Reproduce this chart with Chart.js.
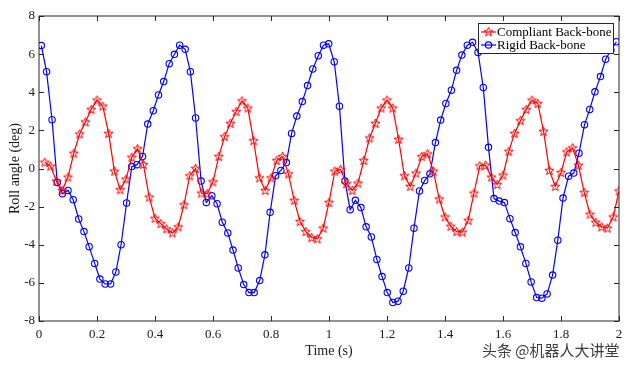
<!DOCTYPE html>
<html>
<head>
<meta charset="utf-8">
<script src="https://cdn.jsdelivr.net/npm/chart.js@4.4.1/dist/chart.umd.min.js"></script>
<style>
  html, body { margin: 0; padding: 0; background: #fff; }
  #wrap { position: relative; width: 640px; height: 367px; }
  #mark { position: absolute; left: 482px; top: 339px; font: 15px "Noto Sans CJK SC", sans-serif; color: #3c3c3c; text-shadow: 0 0 2px #fff; white-space: nowrap; }
</style>
</head>
<body>
<div id="wrap">
  <canvas id="roll" width="640" height="367"></canvas>
  <div id="mark">头条 @机器人大讲堂</div>
</div>
<script>
const seriesNames = ['Compliant Back-bone', 'Rigid Back-bone'];

const compliantTimes = [
  0.02,0.04,0.06,0.08,0.10,0.12,0.14,0.16,0.18,0.20,
  0.22,0.24,0.26,0.28,0.30,0.32,0.34,0.36,0.38,0.40,
  0.42,0.44,0.46,0.48,0.50,0.52,0.54,0.56,0.58,0.60,
  0.62,0.64,0.66,0.68,0.70,0.72,0.74,0.76,0.78,0.80,
  0.82,0.84,0.86,0.88,0.90,0.92,0.94,0.96,0.98,1.00,
  1.02,1.04,1.06,1.08,1.10,1.12,1.14,1.16,1.18,1.20,
  1.22,1.24,1.26,1.28,1.30,1.32,1.34,1.36,1.38,1.40,
  1.42,1.44,1.46,1.48,1.50,1.52,1.54,1.56,1.58,1.60,
  1.62,1.64,1.66,1.68,1.70,1.72,1.74,1.76,1.78,1.80,
  1.82,1.84,1.86,1.88,1.90,1.92,1.94,1.96,1.98,2.00
];
const compliantRoll = [
  0.33,0.12,-0.66,-1.15,-0.45,0.80,1.81,2.44,3.10,3.59,
  3.27,1.84,-0.14,-1.11,-0.56,0.59,1.04,0.21,-1.50,-2.61,
  -2.89,-3.17,-3.38,-3.06,-1.90,-0.38,0.00,-1.29,-1.32,-0.70,
  0.63,1.67,2.37,2.99,3.55,3.17,1.46,-0.49,-1.15,-0.49,
  0.42,0.63,-0.28,-1.67,-2.78,-3.31,-3.62,-3.69,-3.13,-1.78,
  -0.14,-0.05,-0.80,-1.15,-0.77,0.42,1.60,2.37,3.17,3.59,
  3.17,1.53,-0.38,-0.94,-0.24,0.63,0.77,-0.14,-1.60,-2.54,
  -3.03,-3.31,-3.34,-2.72,-1.29,0.14,0.17,-0.45,-0.84,-0.35,
  0.90,1.84,2.51,3.10,3.59,3.41,1.95,-0.10,-0.94,-0.21,
  0.87,1.08,0.17,-1.25,-2.40,-2.82,-3.06,-3.13,-2.54,-1.18
];

const rigidTimes = [
  0.008,0.026,0.045,0.063,0.081,0.100,0.118,0.137,0.155,0.173,
  0.192,0.210,0.228,0.247,0.265,0.283,0.302,0.320,0.338,0.357,
  0.375,0.394,0.412,0.430,0.449,0.467,0.485,0.504,0.522,0.540,
  0.559,0.577,0.596,0.614,0.632,0.651,0.669,0.687,0.706,0.724,
  0.742,0.761,0.779,0.797,0.816,0.834,0.853,0.871,0.889,0.908,
  0.926,0.944,0.963,0.981,0.999,1.018,1.036,1.055,1.073,1.091,
  1.110,1.128,1.146,1.165,1.183,1.201,1.220,1.238,1.256,1.275,
  1.293,1.312,1.330,1.348,1.367,1.385,1.403,1.422,1.440,1.458,
  1.477,1.495,1.514,1.532,1.550,1.569,1.587,1.605,1.624,1.642,
  1.660,1.679,1.697,1.716,1.734,1.752,1.771,1.789,1.807,1.826,
  1.844,1.862,1.881,1.899,1.917,1.936,1.954,1.972,1.991
];
const rigidRoll = [
  6.45,5.08,2.56,-0.73,-1.32,-1.15,-1.64,-2.65,-3.31,-4.10,
  -4.98,-5.80,-6.06,-6.06,-5.43,-4.00,-1.81,0.10,0.20,0.63,
  2.33,3.03,3.86,4.56,5.50,5.99,6.47,6.25,5.08,2.65,
  -0.66,-1.78,-1.43,-1.85,-2.82,-3.38,-4.28,-5.22,-6.09,-6.51,
  -6.51,-5.88,-4.53,-2.30,-0.38,-0.10,0.31,1.84,2.75,3.51,
  4.35,5.22,5.92,6.47,6.54,5.60,3.27,-0.66,-2.16,-1.67,
  -2.05,-3.06,-3.59,-4.77,-5.67,-6.51,-7.03,-6.96,-6.44,-5.22,
  -3.13,-1.18,-0.63,-0.28,1.36,2.54,3.41,4.11,5.15,5.95,
  6.47,6.62,6.09,4.25,1.11,-1.58,-1.71,-1.79,-2.63,-3.36,
  -4.11,-4.98,-5.95,-6.77,-6.80,-6.58,-5.59,-3.76,-1.55,-0.40,
  -0.24,0.80,2.30,3.10,4.02,4.82,5.73,6.20,6.65
];

const timeTicks = [0, 0.2, 0.4, 0.6, 0.8, 1, 1.2, 1.4, 1.6, 1.8, 2];
const angleTicks = [-8, -6, -4, -2, 0, 2, 4, 6, 8];

const RED = '#ff0000';
const BLUE = '#0000ff';
const AXIS = '#262626';
const SERIF = '"Liberation Serif", "Times New Roman", serif';

// 5-point outlined star, like the matlab 'p' marker
function makeStar(color) {
  const c = document.createElement('canvas');
  c.width = 11; c.height = 11;
  const g = c.getContext('2d');
  g.strokeStyle = color;
  g.lineWidth = 1;
  g.beginPath();
  for (let k = 0; k < 10; k++) {
    const r = k % 2 ? 2.0 : 4.8;
    const a = -Math.PI / 2 + k * Math.PI / 5;
    const px = 5.5 + r * Math.cos(a), py = 5.8 + r * Math.sin(a);
    k ? g.lineTo(px, py) : g.moveTo(px, py);
  }
  g.closePath();
  g.stroke();
  return c;
}
const star = makeStar(RED);

function drawCircle(ctx, x, y) {
  ctx.beginPath();
  ctx.arc(x, y, 3.2, 0, Math.PI * 2);
  ctx.stroke();
}

const frame = {
  id: 'frame',
  afterDatasetsDraw(chart) {
    const { ctx, chartArea: a, scales: { x, y } } = chart;
    ctx.save();
    ctx.strokeStyle = AXIS;
    ctx.lineWidth = 1;
    ctx.strokeRect(a.left, a.top, a.right - a.left, a.bottom - a.top);
    ctx.beginPath();
    timeTicks.forEach(v => {
      const px = Math.round(x.getPixelForValue(v)) + 0.5;
      ctx.moveTo(px, a.bottom); ctx.lineTo(px, a.bottom - 5);
      ctx.moveTo(px, a.top); ctx.lineTo(px, a.top + 5);
    });
    angleTicks.forEach(v => {
      const py = Math.round(y.getPixelForValue(v)) + 0.5;
      ctx.moveTo(a.left, py); ctx.lineTo(a.left + 5, py);
      ctx.moveTo(a.right, py); ctx.lineTo(a.right - 5, py);
    });
    ctx.stroke();

    // legend box inside the axes, top right
    const bx = 478.5, by = 23.5, bw = 135, bh = 30;
    ctx.fillStyle = '#fff';
    ctx.fillRect(bx, by, bw, bh);
    ctx.strokeStyle = AXIS;
    ctx.strokeRect(bx, by, bw, bh);
    const rows = [32, 45];
    ctx.font = '13px ' + SERIF;
    ctx.textBaseline = 'middle';
    ctx.fillStyle = '#000';
    rows.forEach((ry, i) => {
      const color = i === 0 ? RED : BLUE;
      ctx.strokeStyle = color;
      ctx.lineWidth = 1.2;
      ctx.beginPath();
      ctx.moveTo(481, ry); ctx.lineTo(496, ry);
      ctx.stroke();
      if (i === 0) ctx.drawImage(star, 488.5 - 5.5, ry - 5.8);
      else drawCircle(ctx, 488.5, ry);
      ctx.fillStyle = '#000';
      ctx.fillText(seriesNames[i], 497, ry + 0.5);
    });
    ctx.restore();
  }
};

Chart.defaults.font.family = SERIF;
Chart.defaults.color = '#1a1a1a';

new Chart(document.getElementById('roll'), {
  type: 'line',
  data: {
    datasets: [
      {
        label: seriesNames[0],
        data: compliantTimes.map((t, i) => ({ x: t, y: compliantRoll[i] })),
        borderColor: RED,
        borderWidth: 1.2,
        pointStyle: star,
        pointRadius: 4,
        tension: 0
      },
      {
        label: seriesNames[1],
        data: rigidTimes.map((t, i) => ({ x: t, y: rigidRoll[i] })),
        borderColor: BLUE,
        borderWidth: 1.2,
        pointStyle: 'circle',
        pointRadius: 3.2,
        pointBorderWidth: 1.1,
        pointBorderColor: BLUE,
        pointBackgroundColor: 'rgba(0,0,0,0)',
        tension: 0
      }
    ]
  },
  options: {
    responsive: false,
    animation: false,
    devicePixelRatio: 1,
    layout: { padding: { top: 16, right: 21, left: 0, bottom: 0 } },
    plugins: {
      legend: { display: false },
      tooltip: { enabled: false }
    },
    scales: {
      x: {
        type: 'linear',
        min: 0,
        max: 2,
        afterBuildTicks: s => { s.ticks = timeTicks.map(v => ({ value: v })); },
        afterFit: s => { s.height = 46; },
        grid: { display: false, drawTicks: false },
        border: { display: false },
        ticks: {
          padding: 6,
          maxRotation: 0,
          font: { size: 13 },
          callback: v => String(v)
        },
        title: {
          display: true,
          text: 'Time (s)',
          font: { size: 14 },
          color: '#1a1a1a',
          padding: { top: 0, bottom: 7 }
        }
      },
      y: {
        min: -8,
        max: 8,
        afterBuildTicks: s => { s.ticks = angleTicks.map(v => ({ value: v })); },
        afterFit: s => { s.width = 39; },
        grid: { display: false, drawTicks: false },
        border: { display: false },
        ticks: {
          padding: 4,
          font: { size: 13 },
          callback: v => String(v)
        },
        title: {
          display: true,
          text: 'Roll angle (deg)',
          font: { size: 14 },
          color: '#1a1a1a',
          padding: { top: 7, bottom: 0 }
        }
      }
    }
  },
  plugins: [frame]
});
</script>
</body>
</html>
